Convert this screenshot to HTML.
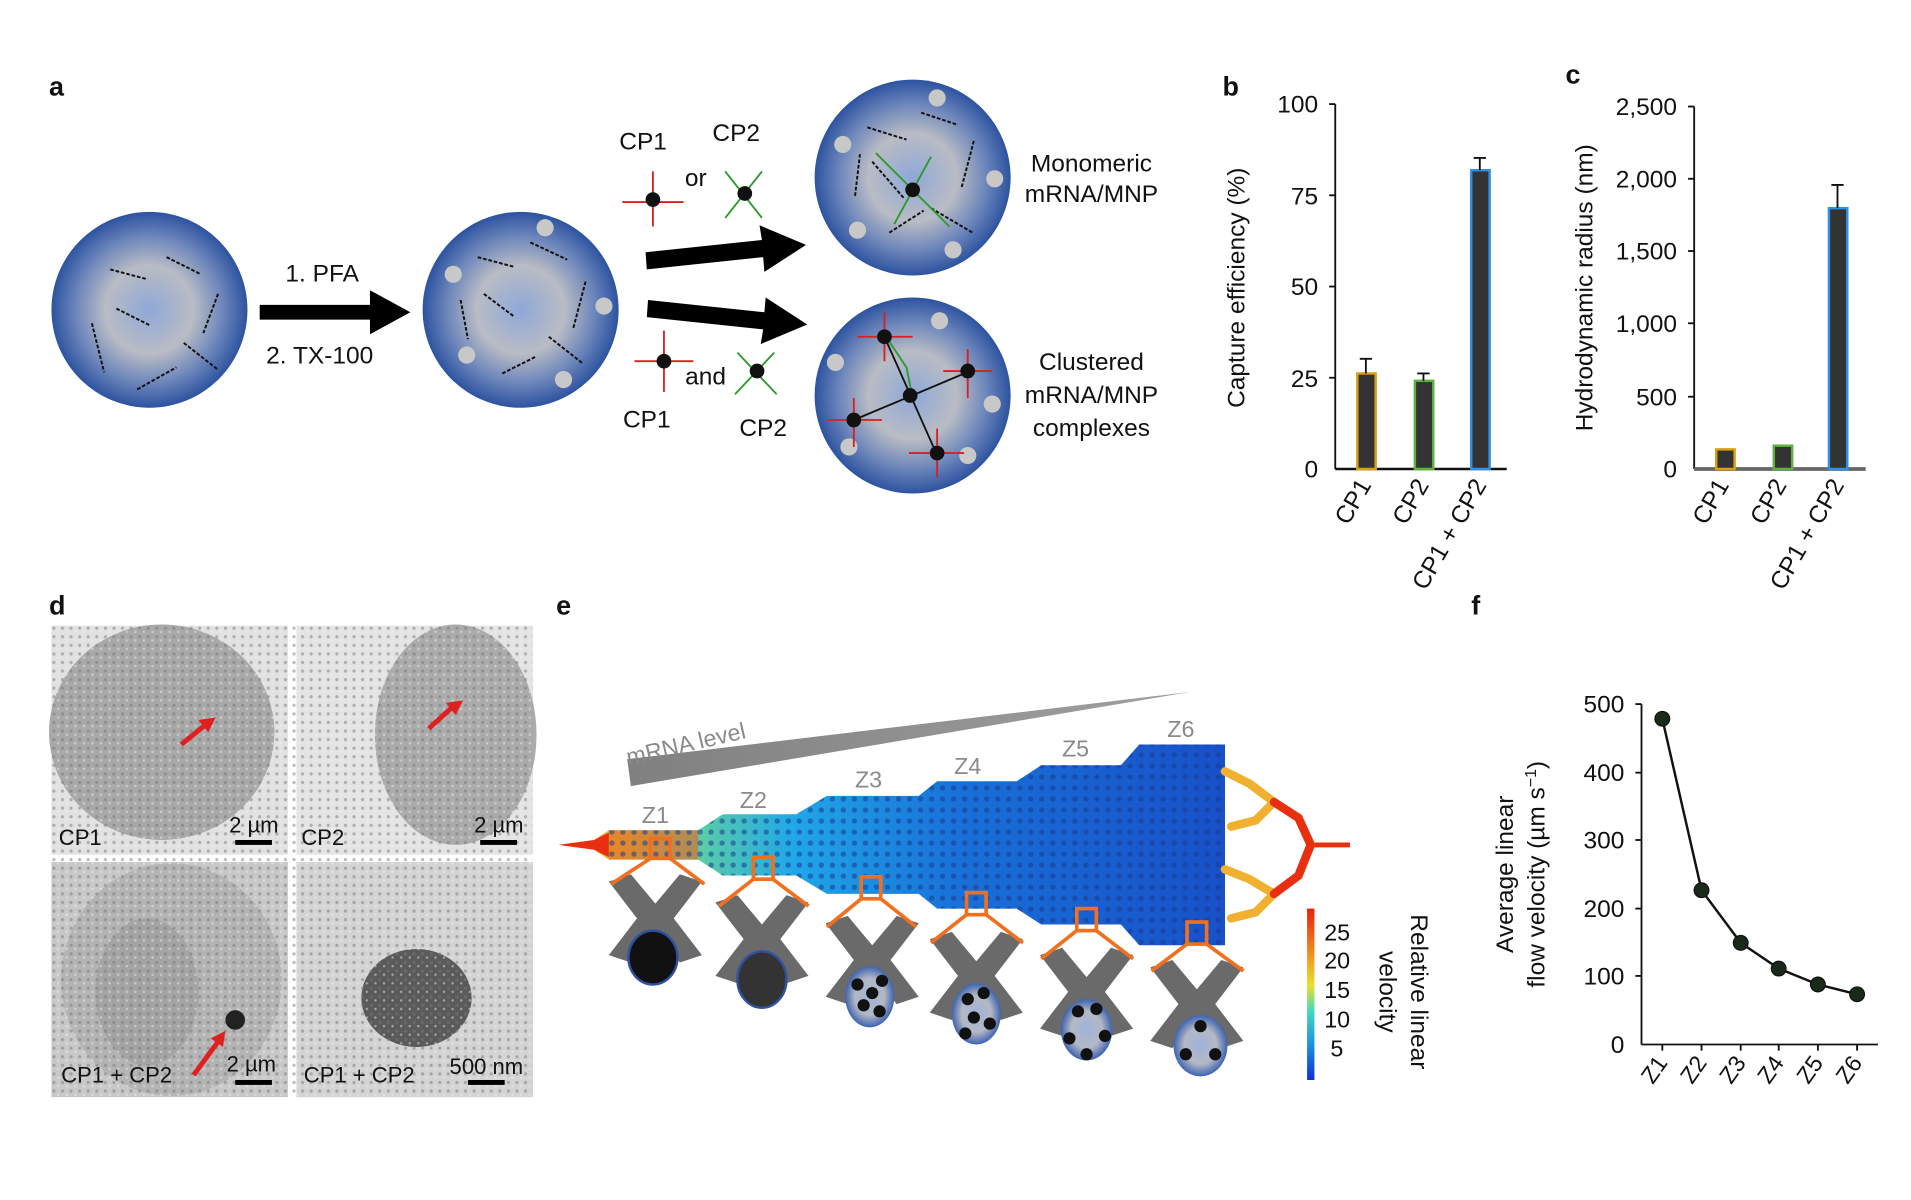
<!DOCTYPE html>
<html><head><meta charset="utf-8"><style>
html,body{margin:0;padding:0;background:#fff;}
svg{display:block;}
text{font-family:"Liberation Sans",sans-serif;fill:#111;}
</style></head><body>
<svg width="1911" height="1200" viewBox="0 0 1560 980" preserveAspectRatio="none" xmlns="http://www.w3.org/2000/svg">
<defs>
<radialGradient id="sph" cx="50%" cy="50%" r="50%">
<stop offset="0" stop-color="#8fa8d8"/><stop offset="0.45" stop-color="#b9bcc4"/><stop offset="0.75" stop-color="#6d86bb"/><stop offset="1" stop-color="#2d53a0"/></radialGradient>
<radialGradient id="sph2" cx="50%" cy="50%" r="50%">
<stop offset="0" stop-color="#9fb3dc"/><stop offset="0.6" stop-color="#b4b8c4"/><stop offset="1" stop-color="#3e64b0"/></radialGradient>
<linearGradient id="chip" x1="0" x2="1" y1="0" y2="0">
<stop offset="0" stop-color="#f05a20"/><stop offset="0.08" stop-color="#e8c030"/><stop offset="0.2" stop-color="#60d0a0"/><stop offset="0.35" stop-color="#20a8e8"/><stop offset="0.6" stop-color="#1870d8"/><stop offset="1" stop-color="#1850c8"/></linearGradient>
<linearGradient id="cbar" x1="0" x2="0" y1="0" y2="1">
<stop offset="0" stop-color="#e82010"/><stop offset="0.3" stop-color="#f0a020"/><stop offset="0.45" stop-color="#e8e030"/><stop offset="0.6" stop-color="#40d8c0"/><stop offset="0.8" stop-color="#1890e0"/><stop offset="1" stop-color="#1030d0"/></linearGradient>
<pattern id="dots" width="9" height="9" patternUnits="userSpaceOnUse"><circle cx="4.5" cy="4.5" r="2.2" fill="#1a3a90" opacity="0.55"/></pattern>
<pattern id="em" width="7" height="7" patternUnits="userSpaceOnUse"><rect width="7" height="7" fill="none"/><circle cx="2" cy="2" r="1.3" fill="#777" opacity="0.5"/><circle cx="5.5" cy="5" r="1" fill="#eee" opacity="0.5"/></pattern>
<linearGradient id="wedge" x1="0" x2="1"><stop offset="0" stop-color="#808080"/><stop offset="1" stop-color="#a0a0a0"/></linearGradient>
<path id="xs" d="M-38,-30 L-20,-36 L0,-12 L20,-36 L38,-30 L15,0 L38,30 L20,36 L0,12 L-20,36 L-38,30 L-15,0Z"/>
</defs>

<g font-weight="bold" font-size="22">
<text x="40" y="78">a</text><text x="998" y="78">b</text><text x="1278" y="68">c</text>
<text x="40" y="502">d</text><text x="454" y="502">e</text><text x="1201" y="502">f</text></g>

<g>
<circle cx="122" cy="253" r="80" fill="url(#sph)"/>
<circle cx="425" cy="253" r="80" fill="url(#sph)"/>
<circle cx="745" cy="145" r="80" fill="url(#sph)"/>
<circle cx="745" cy="323" r="80" fill="url(#sph)"/>
<g fill="#c8c8c8"><circle cx="445" cy="186" r="7"/><circle cx="370" cy="224" r="7"/><circle cx="493" cy="250" r="7"/><circle cx="381" cy="290" r="7"/><circle cx="460" cy="310" r="7"/>
<circle cx="765" cy="80" r="7"/><circle cx="688" cy="118" r="7"/><circle cx="812" cy="146" r="7"/><circle cx="700" cy="188" r="7"/><circle cx="778" cy="204" r="7"/>
<circle cx="767" cy="262" r="7"/><circle cx="682" cy="296" r="7"/><circle cx="810" cy="330" r="7"/><circle cx="693" cy="365" r="7"/><circle cx="790" cy="372" r="7"/></g>
<g stroke="#111" stroke-width="1.6" fill="none" stroke-dasharray="3 1.5">
<path d="M90 220 l30 8 M136 210 l28 14 M95 252 l28 14 M75 264 l10 40 M178 240 l-12 32 M150 280 l28 22 M112 318 l32 -18"/>
<path d="M390 210 l30 8 M433 198 l30 14 M395 240 l24 18 M376 245 l6 32 M478 230 l-10 38 M448 275 l28 22 M410 305 l28 -14"/>
<path d="M708 104 l32 10 M752 92 l30 10 M712 132 l26 30 M698 160 l4 -34 M795 115 l-10 38 M760 170 l34 20 M726 190 l28 -18"/>
</g>
<path d="M212 249 h90 v-12 l33 18 l-33 18 v-12 h-90z" fill="#000"/>
<path d="M527 206 l95 -10 l-2 -12 l38 16 l-34 22 l-1 -12 l-95 10z" fill="#000"/>
<path d="M529 245 l95 10 l1 -12 l34 22 l-38 16 l2 -12 l-95 -10z" fill="#000"/>
<g stroke-width="1.5" fill="none">
<path d="M533 140 v45 M508 165 h50" stroke="#d82020"/><circle cx="533" cy="163" r="6" fill="#111"/>
<path d="M592 140 l30 38 M622 140 l-30 38" stroke="#2a9a2a"/><circle cx="608" cy="158" r="6" fill="#111"/>
<path d="M542 270 v50 M518 295 h48" stroke="#d82020"/><circle cx="542" cy="295" r="6" fill="#111"/>
<path d="M602 288 l32 34 M632 288 l-32 34" stroke="#2a9a2a"/><circle cx="618" cy="303" r="6" fill="#111"/>
<path d="M715 125 l60 60 M760 128 l-30 55" stroke="#2a9a2a"/><circle cx="745" cy="155" r="6" fill="#111"/>
<path d="M722 275 l40 90 M697 343 l95 -40" stroke="#111"/><path d="M720 270 l20 30 M740 300 l5 25" stroke="#2a9a2a"/>
<path d="M722 255 v40 M700 275 h45 M790 285 v40 M770 303 h40 M697 325 v40 M675 343 h45 M765 350 v40 M742 370 h45" stroke="#d82020"/>
<circle cx="722" cy="275" r="6" fill="#111"/><circle cx="790" cy="303" r="6" fill="#111"/><circle cx="697" cy="343" r="6" fill="#111"/><circle cx="765" cy="370" r="6" fill="#111"/><circle cx="743" cy="323" r="6" fill="#111"/>
</g>
<g font-size="20" text-anchor="middle">
<text x="263" y="230">1. PFA</text><text x="261" y="297">2. TX-100</text>
<text x="525" y="122">CP1</text><text x="601" y="115">CP2</text><text x="568" y="152">or</text>
<text x="576" y="314">and</text><text x="528" y="349">CP1</text><text x="623" y="356">CP2</text>
<text x="891" y="140">Monomeric</text><text x="891" y="165">mRNA/MNP</text>
<text x="891" y="302">Clustered</text><text x="891" y="329">mRNA/MNP</text><text x="891" y="356">complexes</text></g>
</g>

<g>
<line x1="1090" y1="85" x2="1090" y2="383" stroke="#111" stroke-width="1.5"/>
<line x1="1090" y1="383" x2="1230" y2="383" stroke="#111" stroke-width="2"/>
<g stroke="#111" stroke-width="1.5"><line x1="1085" y1="85" x2="1090" y2="85"/><line x1="1085" y1="159.5" x2="1090" y2="159.5"/><line x1="1085" y1="234" x2="1090" y2="234"/><line x1="1085" y1="308.5" x2="1090" y2="308.5"/></g>
<g font-size="20" text-anchor="end"><text x="1076" y="92">100</text><text x="1076" y="167">75</text><text x="1076" y="241">50</text><text x="1076" y="316">25</text><text x="1076" y="390">0</text></g>
<rect x="1108" y="305" width="15" height="78" fill="#333" stroke="#d8a010" stroke-width="2"/>
<rect x="1155" y="311" width="15" height="72" fill="#333" stroke="#60b040" stroke-width="2"/>
<rect x="1201" y="139" width="15" height="244" fill="#333" stroke="#3090e8" stroke-width="2"/>
<g stroke="#111" stroke-width="1.5"><path d="M1115 305 v-12 M1110 293 h10 M1162 311 v-6 M1157 305 h10 M1208 139 v-10 M1203 129 h10"/></g>
<text transform="translate(1016,235) rotate(-90)" font-size="20" text-anchor="middle">Capture efficiency (%)</text>
<g font-size="20" text-anchor="end">
<text transform="translate(1120,396) rotate(-60)">CP1</text>
<text transform="translate(1167,396) rotate(-60)">CP2</text>
<text transform="translate(1214,396) rotate(-60)">CP1 + CP2</text></g>
</g>

<g>
<line x1="1383" y1="87" x2="1383" y2="383" stroke="#111" stroke-width="1.5"/>
<line x1="1383" y1="383" x2="1523" y2="383" stroke="#666" stroke-width="3"/>
<g stroke="#111" stroke-width="1.5"><line x1="1378" y1="87" x2="1383" y2="87"/><line x1="1378" y1="146" x2="1383" y2="146"/><line x1="1378" y1="205" x2="1383" y2="205"/><line x1="1378" y1="264" x2="1383" y2="264"/><line x1="1378" y1="324" x2="1383" y2="324"/></g>
<g font-size="20" text-anchor="end"><text x="1369" y="94">2,500</text><text x="1369" y="153">2,000</text><text x="1369" y="212">1,500</text><text x="1369" y="271">1,000</text><text x="1369" y="331">500</text><text x="1369" y="390">0</text></g>
<rect x="1401" y="367" width="15" height="16" fill="#333" stroke="#d8a010" stroke-width="2"/>
<rect x="1448" y="364" width="15" height="19" fill="#333" stroke="#60b040" stroke-width="2"/>
<rect x="1493" y="170" width="15" height="213" fill="#333" stroke="#3090e8" stroke-width="2"/>
<path d="M1500 170 v-19 M1495 151 h10" stroke="#111" stroke-width="1.5"/>
<text transform="translate(1300,235) rotate(-90)" font-size="20" text-anchor="middle">Hydrodynamic radius (nm)</text>
<g font-size="20" text-anchor="end">
<text transform="translate(1412,396) rotate(-60)">CP1</text>
<text transform="translate(1459,396) rotate(-60)">CP2</text>
<text transform="translate(1506,396) rotate(-60)">CP1 + CP2</text></g>
</g>

<g>
<rect x="42" y="511" width="193" height="187" fill="#e2e2e2"/>
<rect x="242" y="511" width="193" height="187" fill="#e4e4e4"/>
<rect x="42" y="704" width="193" height="192" fill="#c8c8c8"/>
<rect x="242" y="704" width="193" height="192" fill="#d4d4d4"/>
<ellipse cx="132" cy="598" rx="92" ry="88" fill="#a9a9a9"/>
<ellipse cx="372" cy="600" rx="66" ry="90" fill="#ababab"/>
<ellipse cx="140" cy="800" rx="90" ry="95" fill="#b4b4b4"/>
<ellipse cx="120" cy="810" rx="42" ry="60" fill="#a4a4a4"/>
<ellipse cx="340" cy="815" rx="45" ry="40" fill="#5a5a5a"/>
<rect x="42" y="511" width="393" height="385" fill="url(#em)"/>
<circle cx="192" cy="833" r="8" fill="#222"/>
<g stroke="#e02020" stroke-width="4"><path d="M148 608 l22 -18 M350 595 l22 -20 M158 878 l22 -30"/></g>
<g fill="#e02020"><path d="M176 586 l-14 2 l8 10z"/><path d="M378 572 l-14 2 l8 10z"/><path d="M184 842 l-12 6 l10 7z"/></g>
<g fill="#000"><rect x="192" y="686" width="30" height="4"/><rect x="392" y="686" width="30" height="4"/><rect x="192" y="882" width="30" height="4"/><rect x="382" y="882" width="30" height="4"/></g>
<g font-size="18"><text x="48" y="690">CP1</text><text x="246" y="690">CP2</text><text x="50" y="884">CP1 + CP2</text><text x="248" y="884">CP1 + CP2</text>
<text x="187" y="680">2 µm</text><text x="387" y="680">2 µm</text><text x="185" y="875">2 µm</text><text x="367" y="877">500 nm</text></g>
</g>

<g>
<polygon points="512,620 972,565 515,642" fill="url(#wedge)"/>
<text transform="translate(513,625) rotate(-13)" font-size="19" style="fill:#8a8a8a">mRNA level</text>
<path d="M456 690 L485 686 L497 678 L570 678 L590 665 L650 665 L675 650 L750 650 L765 638 L830 638 L850 625 L915 625 L930 608 L1000 608 L1000 772 L930 772 L915 755 L850 755 L830 742 L765 742 L750 730 L675 730 L650 715 L590 715 L570 702 L497 702 L485 694 Z" fill="url(#chip)"/>
<path d="M497 678 L570 678 L570 702 L497 702 Z" fill="#e86020" opacity="0.6"/>
<path d="M456 690 L485 686 L497 680 L497 700 L485 694 Z" fill="#e83010"/>
<path d="M497 678 L570 678 L590 665 L650 665 L675 650 L750 650 L765 638 L830 638 L850 625 L915 625 L930 608 L1000 608 L1000 772 L930 772 L915 755 L850 755 L830 742 L765 742 L750 730 L675 730 L650 715 L590 715 L570 702 L497 702 Z" fill="url(#dots)"/>
<g fill="none" stroke-width="7" stroke-linecap="round">
<path d="M1000 630 L1020 640 L1040 655 L1025 670 L1005 675" stroke="#f0b030"/>
<path d="M1000 710 L1020 718 L1040 730 L1025 745 L1005 750" stroke="#f0b030"/>
<path d="M1040 655 L1060 668 L1070 690 L1060 715 L1040 730" stroke="#e83010"/>
</g>
<path d="M1070 690 L1102 690" stroke="#e83010" stroke-width="4"/>
<g fill="#6a6a6a">
<use href="#xs" x="535" y="750"/><use href="#xs" x="622" y="767"/><use href="#xs" x="712" y="784"/><use href="#xs" x="797" y="797"/><use href="#xs" x="887" y="810"/><use href="#xs" x="977" y="820"/>
</g>
<ellipse cx="533" cy="782" rx="20" ry="22" fill="#111" stroke="#3050a0" stroke-width="2"/>
<ellipse cx="622" cy="800" rx="20" ry="23" fill="#333" stroke="#3050a0" stroke-width="2"/>
<ellipse cx="710" cy="814" rx="20" ry="25" fill="url(#sph2)"/>
<ellipse cx="797" cy="828" rx="20" ry="25" fill="url(#sph2)"/>
<ellipse cx="887" cy="841" rx="21" ry="25" fill="url(#sph2)"/>
<ellipse cx="980" cy="854" rx="22" ry="25" fill="url(#sph2)"/>
<g fill="#111">
<circle cx="700" cy="804" r="5"/><circle cx="712" cy="811" r="5"/><circle cx="720" cy="801" r="5"/><circle cx="705" cy="821" r="5"/><circle cx="718" cy="826" r="5"/>
<circle cx="790" cy="816" r="5"/><circle cx="803" cy="811" r="5"/><circle cx="795" cy="831" r="5"/><circle cx="808" cy="836" r="5"/><circle cx="788" cy="844" r="5"/>
<circle cx="880" cy="826" r="5"/><circle cx="895" cy="824" r="5"/><circle cx="873" cy="848" r="5"/><circle cx="902" cy="846" r="5"/><circle cx="887" cy="861" r="5"/>
<circle cx="980" cy="838" r="5"/><circle cx="968" cy="861" r="5"/><circle cx="992" cy="861" r="5"/></g>
<g fill="none" stroke="#f07020" stroke-width="3">
<rect x="531" y="685" width="16" height="16"/><rect x="615" y="700" width="16" height="18"/><rect x="703" y="716" width="16" height="18"/><rect x="789" y="729" width="16" height="18"/><rect x="879" y="742" width="16" height="18"/><rect x="969" y="753" width="16" height="18"/>
<path d="M531 701 L499 722 M547 701 L575 722 M615 718 L587 740 M631 718 L660 740 M703 734 L675 757 M719 734 L748 757 M789 747 L760 770 M805 747 L835 770 M879 760 L850 783 M895 760 L925 783 M969 771 L940 793 M985 771 L1015 793"/>
</g>
<g font-size="19" text-anchor="middle">
<text x="535" y="672" style="fill:#8a8a8a">Z1</text><text x="615" y="660" style="fill:#8a8a8a">Z2</text><text x="709" y="643" style="fill:#8a8a8a">Z3</text><text x="790" y="632" style="fill:#8a8a8a">Z4</text><text x="878" y="618" style="fill:#8a8a8a">Z5</text><text x="964" y="602" style="fill:#8a8a8a">Z6</text></g>
<rect x="1067" y="742" width="6" height="140" fill="url(#cbar)"/>
<g font-size="19"><text x="1081" y="768">25</text><text x="1081" y="791">20</text><text x="1081" y="815">15</text><text x="1081" y="839">10</text><text x="1086" y="863">5</text></g>
<text transform="translate(1152,810) rotate(90)" font-size="20" text-anchor="middle">Relative linear</text>
<text transform="translate(1126,810) rotate(90)" font-size="20" text-anchor="middle">velocity</text>
</g>

<g>
<line x1="1340" y1="575" x2="1340" y2="853" stroke="#111" stroke-width="1.5"/>
<line x1="1340" y1="853" x2="1533" y2="853" stroke="#111" stroke-width="1.5"/>
<g stroke="#111" stroke-width="1.5"><line x1="1335" y1="575" x2="1340" y2="575"/><line x1="1335" y1="631" x2="1340" y2="631"/><line x1="1335" y1="686" x2="1340" y2="686"/><line x1="1335" y1="742" x2="1340" y2="742"/><line x1="1335" y1="797" x2="1340" y2="797"/>
<path d="M1357 853 v5 M1389 853 v5 M1421 853 v5 M1452 853 v5 M1484 853 v5 M1516 853 v5"/></g>
<g font-size="20" text-anchor="end"><text x="1326" y="582">500</text><text x="1326" y="638">400</text><text x="1326" y="693">300</text><text x="1326" y="749">200</text><text x="1326" y="804">100</text><text x="1326" y="860">0</text></g>
<polyline points="1357,587 1389,727 1421,770 1452,791 1484,804 1516,812" fill="none" stroke="#111" stroke-width="2"/>
<g fill="#1a2a1a" stroke="#111"><circle cx="1357" cy="587" r="6"/><circle cx="1389" cy="727" r="6"/><circle cx="1421" cy="770" r="6"/><circle cx="1452" cy="791" r="6"/><circle cx="1484" cy="804" r="6"/><circle cx="1516" cy="812" r="6"/></g>
<text transform="translate(1235,714) rotate(-90)" font-size="20" text-anchor="middle">Average linear</text>
<text transform="translate(1261,714) rotate(-90)" font-size="20" text-anchor="middle">flow velocity (µm s<tspan dy="-7" font-size="13">−1</tspan><tspan dy="7">)</tspan></text>
<g font-size="19" text-anchor="end">
<text transform="translate(1362,868) rotate(-55)">Z1</text><text transform="translate(1394,868) rotate(-55)">Z2</text><text transform="translate(1426,868) rotate(-55)">Z3</text><text transform="translate(1457,868) rotate(-55)">Z4</text><text transform="translate(1489,868) rotate(-55)">Z5</text><text transform="translate(1521,868) rotate(-55)">Z6</text></g>
</g>
</svg>
</body></html>
